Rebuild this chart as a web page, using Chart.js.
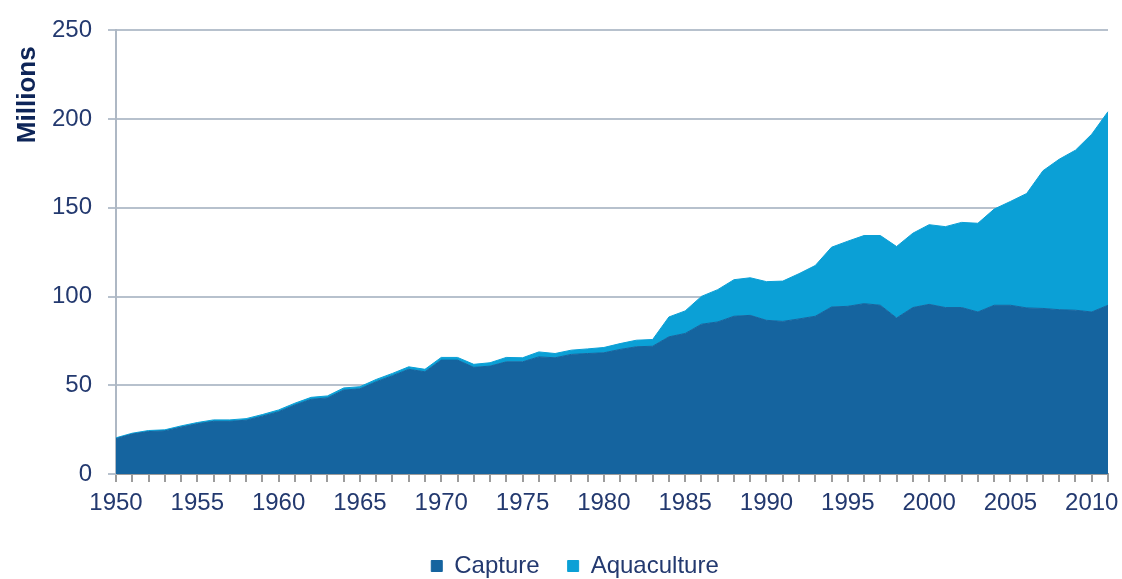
<!DOCTYPE html>
<html>
<head>
<meta charset="utf-8">
<script src="https://cdn.jsdelivr.net/npm/chart.js@4/dist/chart.umd.min.js"></script>
<style>
  html, body { margin: 0; padding: 0; background: #fff; }
  #wrap { width: 1122px; height: 579px; position: relative; }
</style>
</head>
<body>
<div id="wrap"><canvas id="areaChart"></canvas></div>
<script>
// years 1950 .. 2011
let years = [];
for (let y = 1950; y <= 2011; y++) years.push(String(y));

let capture = [
  19.9, 22.5, 23.9, 24.3, 26.4, 28.3, 29.7, 29.7, 30.3, 32.6,   // 1950-59
  35.1, 38.9, 42.1, 42.9, 47.3, 48.0, 52.0, 55.4, 59.0, 57.6,   // 1960-69
  64.2, 64.2, 60.1, 60.8, 63.2, 63.2, 66.0, 65.5, 67.4, 67.9,   // 1970-79
  68.3, 70.2, 71.7, 72.0, 77.3, 79.2, 84.4, 85.7, 88.9, 89.4,   // 1980-89
  86.6, 86.0, 87.4, 88.9, 94.1, 94.5, 96.0, 95.1, 87.9, 93.8,   // 1990-99
  95.6, 93.8, 93.8, 91.3, 95.1, 95.1, 93.6, 93.3, 92.6, 92.3,   // 2000-09
  91.3, 95.1                                                     // 2010-11
];
let aquaculture = [
  0.5, 0.5, 0.6, 0.6, 0.7, 0.7, 0.8, 0.8, 0.9, 0.9,
  1.0, 1.0, 1.1, 1.1, 1.2, 1.2, 1.3, 1.3, 1.4, 1.4,
  1.5, 1.5, 1.7, 1.9, 2.5, 2.3, 2.8, 2.4, 2.4, 2.6,
  3.0, 3.3, 3.7, 3.8, 11.2, 12.7, 15.7, 18.2, 20.6, 21.2,
  21.8, 22.7, 25.5, 28.6, 33.7, 36.7, 38.4, 39.3, 40.3, 41.9,
  44.9, 45.6, 48.0, 50.0, 54.2, 58.5, 64.5, 77.6, 84.8, 90.2,
  100.2, 109.1
];
let yTicks = [0, 50, 100, 150, 200, 250];

let textColor = "#23396f";
let fontFamily = "'Liberation Sans', Arial, sans-serif";

// "Millions" axis title, placed near the top of the y axis
let axisTitle = {
  id: "axisTitle",
  afterDraw(chart) {
    let c = chart.ctx;
    c.save();
    c.translate(35, chart.chartArea.top + 16);
    c.rotate(-Math.PI / 2);
    c.textAlign = "right";
    c.textBaseline = "alphabetic";
    c.font = "bold 26px " + fontFamily;
    c.fillStyle = "#0e2558";
    c.fillText("Millions", 0, 0);
    c.restore();
  }
};

document.addEventListener("DOMContentLoaded", function () {
  let ctx = document.getElementById("areaChart").getContext("2d");

  new Chart(ctx, {
    type: "line",
    data: {
      labels: years,
      datasets: [
        {
          label: "Capture",
          data: capture,
          backgroundColor: "#15649f",
          borderColor: "#15649f",
          borderWidth: 1,
          fill: "origin",
          pointRadius: 0,
          tension: 0
        },
        {
          label: "Aquaculture",
          data: aquaculture,
          backgroundColor: "#0ba0d6",
          borderColor: "#0ba0d6",
          borderWidth: 1,
          fill: "-1",
          pointRadius: 0,
          tension: 0
        }
      ]
    },
    options: {
      responsive: true,
      maintainAspectRatio: false,
      animation: false,
      layout: { padding: { top: 20, right: 14, left: 42, bottom: -9 } },
      scales: {
        x: {
          type: "category",
          offset: false,
          grid: { display: true, drawOnChartArea: false, drawTicks: true, tickLength: 8, color: "#9c9c9c", lineWidth: 2 },
          border: { display: true, color: "#9c9c9c", width: 2 },
          ticks: {
            autoSkip: false,
            maxRotation: 0,
            padding: 7,
            color: textColor,
            font: { family: fontFamily, size: 24 },
            callback: function (value, index) {
              let yr = Number(years[index]);
              return yr % 5 === 0 ? years[index] : "";
            }
          },
          afterFit: function (scale) { scale.height = 52; }
        },
        y: {
          stacked: true,
          min: 0,
          max: 250,
          afterBuildTicks: function (scale) {
            scale.ticks = yTicks.map(v => ({ value: v }));
          },
          grid: { color: "#b7c1cd", lineWidth: 2, tickLength: 8 },
          border: { display: true, color: "#aeb8c4", width: 2 },
          ticks: {
            padding: 16,
            color: textColor,
            font: { family: fontFamily, size: 24 }
          },
          afterFit: function (scale) { scale.width = 74; }
        }
      },
      plugins: {
        legend: {
          position: "bottom",
          labels: {
            boxWidth: 11,
            boxHeight: 11,
            padding: 28,
            color: textColor,
            font: { family: fontFamily, size: 24 }
          }
        },
        tooltip: { enabled: false }
      }
    },
    plugins: [axisTitle]
  });
});
</script>
</body>
</html>
